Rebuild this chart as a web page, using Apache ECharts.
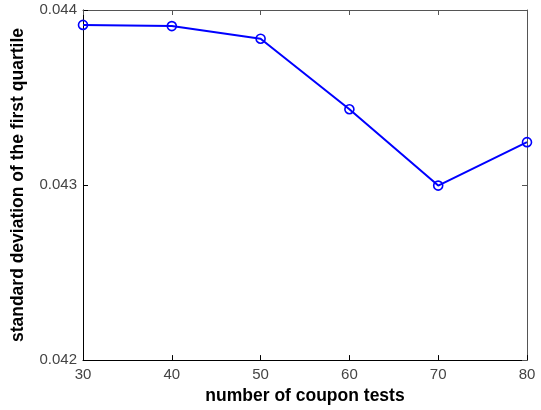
<!DOCTYPE html>
<html>
<head>
<meta charset="utf-8">
<script src="https://cdn.jsdelivr.net/npm/echarts@6/dist/echarts.min.js"></script>
<style>
html,body{margin:0;padding:0;background:#fff;}
#c{width:541px;height:410px;}
</style>
</head>
<body>
<div id="c"></div>
<script>
var couponTests = [30, 40, 50, 60, 70, 80];
var stdFirstQuartile = [0.043915, 0.043908, 0.043836, 0.043433, 0.042997, 0.043245];
var xTicks = [30, 40, 50, 60, 70, 80];
var yTicks = [0.042, 0.043, 0.044];

var chart = echarts.init(document.getElementById('c'), null, {renderer: 'canvas'});
var pts = couponTests.map(function (x, i) { return [x, stdFirstQuartile[i]]; });
var font = 'Liberation Sans, Arial, sans-serif';
var option = {
  backgroundColor: '#fff',
  animation: false,
  grid: {left: 83, right: 14, top: 10, bottom: 47, containLabel: false},
  xAxis: [{
    type: 'value', min: xTicks[0], max: xTicks[xTicks.length - 1], interval: 10,
    name: 'number of coupon tests', nameLocation: 'middle', nameGap: 26,
    nameTextStyle: {fontFamily: font, fontSize: 17.5, fontWeight: 'bold', color: '#000'},
    axisLine: {show: true, lineStyle: {color: '#000', width: 1}},
    axisTick: {show: true, inside: true, length: 5, lineStyle: {color: '#000'}},
    axisLabel: {fontFamily: font, fontSize: 15, color: '#444', margin: 7},
    splitLine: {show: false}
  }, {
    type: 'value', position: 'top', min: xTicks[0], max: xTicks[xTicks.length - 1], interval: 10,
    axisLine: {show: true, lineStyle: {color: '#555', width: 1}},
    axisTick: {show: true, inside: true, length: 5, lineStyle: {color: '#555'}},
    axisLabel: {show: false}, splitLine: {show: false}
  }],
  yAxis: [{
    type: 'value', min: yTicks[0], max: yTicks[yTicks.length - 1], interval: 0.001,
    name: 'standard deviation of the first quartile', nameLocation: 'middle', nameGap: 56,
    nameTextStyle: {fontFamily: font, fontSize: 17.5, fontWeight: 'bold', color: '#000'},
    axisLine: {show: true, lineStyle: {color: '#000', width: 1}},
    axisTick: {show: true, inside: true, length: 5, lineStyle: {color: '#000'}},
    axisLabel: {fontFamily: font, fontSize: 15, color: '#444', margin: 6,
      formatter: function (v) { return v.toFixed(3); }},
    splitLine: {show: false}
  }, {
    type: 'value', position: 'right', min: yTicks[0], max: yTicks[yTicks.length - 1], interval: 0.001,
    axisLine: {show: true, lineStyle: {color: '#555', width: 1}},
    axisTick: {show: true, inside: true, length: 5, lineStyle: {color: '#555'}},
    axisLabel: {show: false}, splitLine: {show: false}
  }],
  series: [{
    type: 'line', xAxisIndex: 0, yAxisIndex: 0, data: pts,
    symbol: 'circle', symbolSize: 9, showAllSymbol: true,
    lineStyle: {color: '#0000ff', width: 2},
    itemStyle: {color: 'rgba(255,255,255,0)', borderColor: '#0000ff', borderWidth: 1.6}
  }]
};
chart.setOption(option);
</script>
</body>
</html>
